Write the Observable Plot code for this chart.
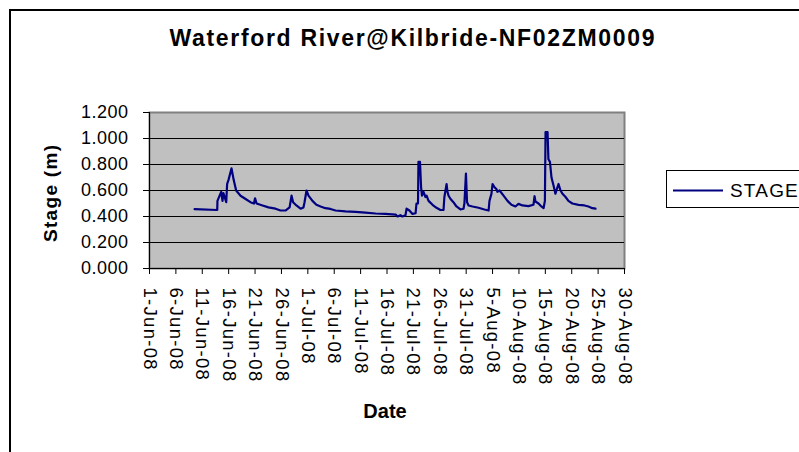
<!DOCTYPE html>
<html>
<head>
<meta charset="utf-8">
<script src="https://cdn.jsdelivr.net/npm/d3@7"></script>
<script src="https://cdn.jsdelivr.net/npm/@observablehq/plot@0.6"></script>
<style>
  html, body { margin: 0; padding: 0; background: #fff; }
  #chart { width: 799px; height: 452px; overflow: hidden; }
</style>
</head>
<body>
<div id="chart"></div>
<script>
const title = "Waterford River@Kilbride-NF02ZM0009";
const yLabel = "Stage (m)";
const xLabel = "Date";
const seriesName = "STAGE";

const dates = [
  "2008-06-09T13","2008-06-13T20","2008-06-13T21","2008-06-14T14","2008-06-14T20","2008-06-15T00","2008-06-15T13","2008-06-15T17","2008-06-15T23","2008-06-16T13",
  "2008-06-16T23","2008-06-17T10","2008-06-18T06","2008-06-19T05","2008-06-20T03","2008-06-20T19","2008-06-21T00","2008-06-21T07","2008-06-22T10","2008-06-23T13",
  "2008-06-24T21","2008-06-25T20","2008-06-26T18","2008-06-27T13","2008-06-27T22","2008-06-28T05","2008-06-28T20","2008-06-29T15","2008-06-30T04","2008-06-30T09",
  "2008-06-30T18","2008-07-01T03","2008-07-01T21","2008-07-02T15","2008-07-03T10","2008-07-04T08","2008-07-05T07","2008-07-06T06","2008-07-08T03","2008-07-10T01",
  "2008-07-11T22","2008-07-13T20","2008-07-15T17","2008-07-17T15","2008-07-18T00","2008-07-18T13","2008-07-18T22","2008-07-19T12","2008-07-19T17","2008-07-20T06",
  "2008-07-20T20","2008-07-21T10","2008-07-21T14","2008-07-21T21","2008-07-21T23","2008-07-22T06","2008-07-22T11","2008-07-22T15","2008-07-22T22","2008-07-23T07",
  "2008-07-23T12","2008-07-23T21","2008-07-24T15","2008-07-25T09","2008-07-26T03","2008-07-26T17","2008-07-26T21","2008-07-27T02","2008-07-27T07","2008-07-27T11",
  "2008-07-27T16","2008-07-28T01","2008-07-28T14","2008-07-29T04","2008-07-29T22","2008-07-30T12","2008-07-30T16","2008-07-30T23","2008-07-31T04","2008-07-31T11",
  "2008-08-01T05","2008-08-02T08","2008-08-03T11","2008-08-04T06","2008-08-04T10","2008-08-04T19","2008-08-05T00","2008-08-05T09","2008-08-05T18","2008-08-05T22",
  "2008-08-06T08","2008-08-07T02","2008-08-07T20","2008-08-08T14","2008-08-09T08","2008-08-09T22","2008-08-10T16","2008-08-11T19","2008-08-12T18","2008-08-12T23",
  "2008-08-13T03","2008-08-13T17","2008-08-14T06","2008-08-14T16","2008-08-14T22","2008-08-15T01","2008-08-15T10","2008-08-15T14","2008-08-15T21","2008-08-16T04",
  "2008-08-16T13","2008-08-16T22","2008-08-17T07","2008-08-17T12","2008-08-17T21","2008-08-18T06","2008-08-18T20","2008-08-19T09","2008-08-20T03","2008-08-21T07",
  "2008-08-22T10","2008-08-23T04","2008-08-23T22","2008-08-24T12"
];

const stage = [
  0.456,0.45,0.52,0.59,0.52,0.58,0.51,0.65,0.68,0.77,
  0.68,0.60,0.56,0.535,0.51,0.50,0.54,0.50,0.485,0.47,
  0.46,0.446,0.446,0.47,0.56,0.51,0.485,0.46,0.47,0.51,
  0.60,0.56,0.52,0.49,0.477,0.464,0.458,0.446,0.44,0.436,
  0.43,0.423,0.42,0.415,0.40,0.41,0.40,0.41,0.46,0.446,
  0.42,0.425,0.50,0.50,0.82,0.82,0.625,0.56,0.59,0.55,
  0.56,0.52,0.49,0.467,0.45,0.45,0.55,0.60,0.65,0.59,
  0.56,0.535,0.51,0.477,0.454,0.46,0.50,0.73,0.51,0.485,
  0.477,0.467,0.454,0.446,0.52,0.575,0.65,0.625,0.61,0.59,
  0.60,0.56,0.52,0.49,0.477,0.497,0.485,0.48,0.49,0.556,
  0.515,0.50,0.477,0.464,0.52,1.05,1.05,0.84,0.82,0.70,
  0.64,0.575,0.625,0.65,0.60,0.575,0.55,0.52,0.50,0.49,
  0.485,0.477,0.464,0.46
];

const xTickDates = [
  "2008-06-01","2008-06-06","2008-06-11","2008-06-16","2008-06-21","2008-06-26",
  "2008-07-01","2008-07-06","2008-07-11","2008-07-16","2008-07-21","2008-07-26","2008-07-31",
  "2008-08-05","2008-08-10","2008-08-15","2008-08-20","2008-08-25","2008-08-30"
];
const xTickLabels = [
  "1-Jun-08","6-Jun-08","11-Jun-08","16-Jun-08","21-Jun-08","26-Jun-08",
  "1-Jul-08","6-Jul-08","11-Jul-08","16-Jul-08","21-Jul-08","26-Jul-08","31-Jul-08",
  "5-Aug-08","10-Aug-08","15-Aug-08","20-Aug-08","25-Aug-08","30-Aug-08"
];
const yTicks = [0, 0.2, 0.4, 0.6, 0.8, 1.0, 1.2];
const yTickLabels = ["0.000","0.200","0.400","0.600","0.800","1.000","1.200"];
const gridValues = [0.2, 0.4, 0.6, 0.8, 1.0];

const parseT = d3.utcParse("%Y-%m-%dT%H");
const parseD = d3.utcParse("%Y-%m-%d");
const data = dates.map((d, i) => ({date: parseT(d), stage: stage[i]}));
const tickDates = xTickDates.map(parseD);
const xLabelOf = new Map(tickDates.map((d, i) => [+d, xTickLabels[i]]));
const yLabelOf = new Map(yTicks.map((v, i) => [v, yTickLabels[i]]));

const FONT = "'Liberation Sans', Arial, sans-serif";
const NAVY = "#000080";

const svg = Plot.plot({
  width: 799,
  height: 452,
  marginLeft: 149,
  marginRight: 175,
  marginTop: 112,
  marginBottom: 184,
  style: {fontFamily: FONT, background: "#fff", color: "#000", overflow: "visible"},
  x: {type: "utc", domain: [tickDates[0], tickDates[tickDates.length - 1]]},
  y: {domain: [0, 1.2]},
  marks: [
    Plot.frame({fill: "#c0c0c0", stroke: "#808080", strokeWidth: 2}),
    Plot.ruleY(gridValues, {stroke: "#000", strokeWidth: 1}),
    Plot.ruleY([0], {stroke: "#000", strokeWidth: 1}),
    Plot.ruleX([tickDates[0]], {stroke: "#000", strokeWidth: 1}),
    Plot.axisY({ticks: yTicks, tickFormat: v => yLabelOf.get(v), tickSize: 6, tickPadding: 15, fontSize: 18, label: null}),
    Plot.axisX({ticks: tickDates, tickFormat: d => xLabelOf.get(+d), tickSize: 6, tickPadding: 13, tickRotate: 90, fontSize: 18.5, label: null}),
    Plot.line(data, {x: "date", y: "stage", stroke: NAVY, strokeWidth: 2.2})
  ]
});

const s = d3.select(svg);
s.selectAll('[aria-label="x-axis tick label"] text').attr("letter-spacing", "1.3px");
s.selectAll('[aria-label="y-axis tick label"] text').attr("letter-spacing", "0.5px");

// outer chart-area border
s.append("rect")
  .attr("x", 10).attr("y", 10).attr("width", 800).attr("height", 450)
  .attr("fill", "none").attr("stroke", "#000").attr("stroke-width", 2);

// title
s.append("text")
  .attr("x", 412).attr("y", 46)
  .attr("text-anchor", "middle")
  .attr("font-family", FONT).attr("font-weight", "bold").attr("font-size", 23)
  .attr("textLength", 485).attr("lengthAdjust", "spacing")
  .text(title);

// y label
s.append("text")
  .attr("transform", "translate(57,193.5) rotate(-90)")
  .attr("text-anchor", "middle")
  .attr("font-family", FONT).attr("font-weight", "bold").attr("font-size", 19)
  .attr("textLength", 97).attr("lengthAdjust", "spacing")
  .text(yLabel);

// x label
s.append("text")
  .attr("x", 385).attr("y", 418)
  .attr("text-anchor", "middle")
  .attr("font-family", FONT).attr("font-weight", "bold").attr("font-size", 20)
  .text(xLabel);

// legend
const lg = s.append("g");
lg.append("rect")
  .attr("x", 666.5).attr("y", 170.5).attr("width", 200).attr("height", 37)
  .attr("fill", "#fff").attr("stroke", "#000").attr("stroke-width", 1);
lg.append("line")
  .attr("x1", 673).attr("x2", 723).attr("y1", 190.5).attr("y2", 190.5)
  .attr("stroke", NAVY).attr("stroke-width", 2);
lg.append("text")
  .attr("x", 730).attr("y", 197)
  .attr("text-anchor", "start")
  .attr("font-family", FONT).attr("font-size", 19).attr("letter-spacing", "1.2px")
  .text(seriesName);

document.getElementById("chart").appendChild(svg);
</script>
</body>
</html>
